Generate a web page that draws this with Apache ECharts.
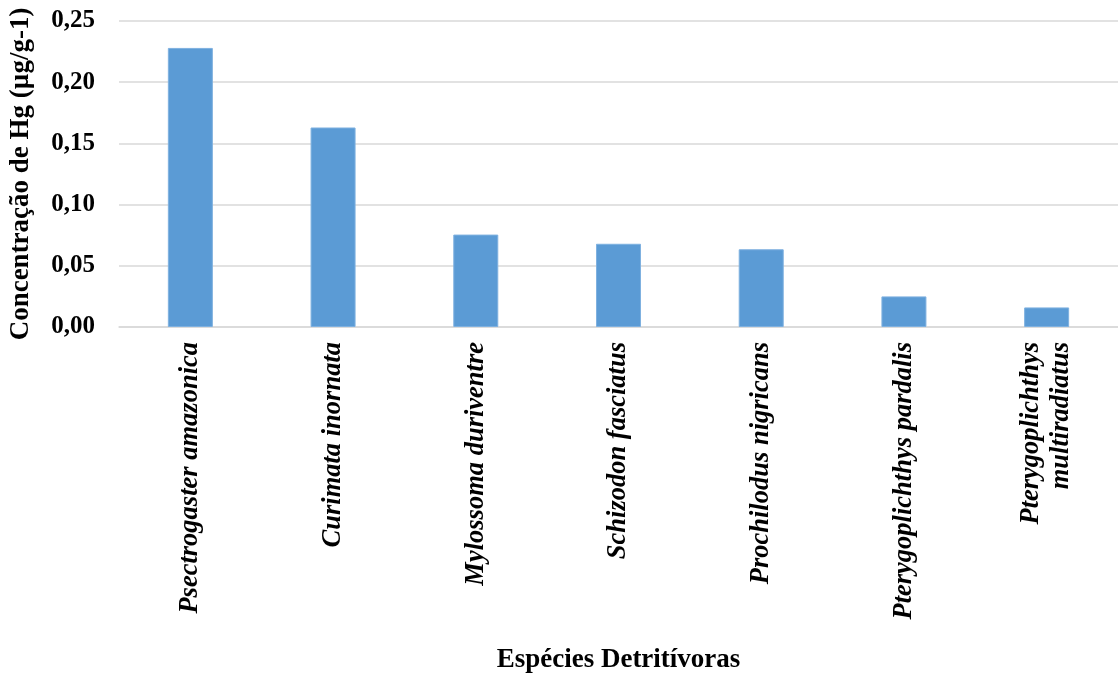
<!DOCTYPE html>
<html>
<head>
<meta charset="utf-8">
<style>
  html, body { margin: 0; padding: 0; background: #ffffff; }
  #chart { width: 1118px; height: 675px; }
</style>
<script src="https://cdn.jsdelivr.net/npm/echarts@6/dist/echarts.min.js"></script>
</head>
<body>
<div id="chart"></div>
<script>
// Mercury concentration in detritivorous fish species
const species = [
  'Psectrogaster amazonica',
  'Curimata inornata',
  'Mylossoma duriventre',
  'Schizodon fasciatus',
  'Prochilodus nigricans',
  'Pterygoplichthys pardalis',
  'Pterygoplichthys\nmultiradiatus'
];
const hgValues = [0.228, 0.163, 0.0755, 0.068, 0.0635, 0.025, 0.016];
const yTicks = { min: 0, max: 0.25, interval: 0.05 };

const serif = '"Liberation Serif", "Times New Roman", serif';
const chart = echarts.init(document.getElementById('chart'));

chart.setOption({
  animation: false,
  grid: { left: 114, top: 21, width: 1008, height: 306, containLabel: false },
  xAxis: {
    type: 'category',
    data: species,
    name: 'Espécies Detritívoras',
    nameLocation: 'middle',
    nameGap: 320,
    nameTextStyle: { fontFamily: serif, fontWeight: 'bold', fontSize: 27, color: '#000' },
    axisLine: { show: true, lineStyle: { color: '#D9D9D9', width: 1.5 } },
    axisTick: { show: false },
    axisLabel: {
      rotate: 90,
      margin: 15,
      interval: 0,
      fontFamily: serif,
      fontStyle: 'italic',
      fontWeight: 'bold',
      fontSize: 26.5,
      lineHeight: 30,
      color: '#000'
    }
  },
  yAxis: {
    type: 'value',
    min: yTicks.min,
    max: yTicks.max,
    interval: yTicks.interval,
    name: 'Concentração de Hg (µg/g-1)',
    nameLocation: 'middle',
    nameGap: 84,
    nameTextStyle: { fontFamily: serif, fontWeight: 'bold', fontSize: 27, color: '#000' },
    axisLine: { show: false },
    axisTick: { show: false },
    axisLabel: {
      margin: 24,
      fontFamily: serif,
      fontWeight: 'bold',
      fontSize: 25,
      color: '#000',
      formatter: v => v.toFixed(2).replace('.', ',')
    },
    splitLine: { lineStyle: { color: '#D9D9D9', width: 1.5 } }
  },
  series: [{
    type: 'bar',
    data: hgValues,
    barWidth: 45,
    itemStyle: { color: '#5B9BD5', borderColor: '#7FB1E0', borderWidth: 1 }
  }]
});
</script>
</body>
</html>
